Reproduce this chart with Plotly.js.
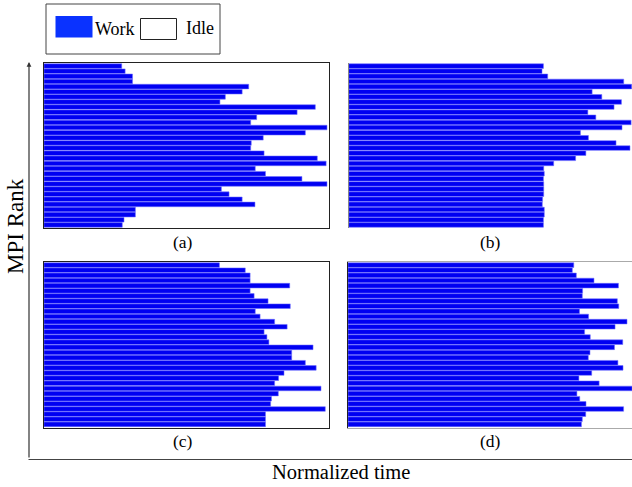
<!DOCTYPE html>
<html>
<head>
<meta charset="utf-8">
<script src="https://cdn.plot.ly/plotly-3.0.1.min.js"></script>
<style>html,body{margin:0;padding:0;background:#fff;}#chart{width:632px;height:487px;}</style>
</head>
<body>
<div id="chart"></div>
<script>
// MPI ranks (top to bottom)
const ranks = [0,1,2,3,4,5,6,7,8,9,10,11,12,13,14,15,16,17,18,19,20,21,22,23,24,25,26,27,28,29,30,31];

// Normalized work time per rank, panels (a)-(d)
const workA = [0.273,0.285,0.311,0.311,0.719,0.696,0.637,0.618,0.953,0.889,0.747,0.726,0.994,0.918,0.770,0.728,
               0.726,0.773,0.960,0.991,0.742,0.778,0.906,0.994,0.623,0.650,0.696,0.741,0.321,0.321,0.281,0.275];
const workB = [0.684,0.679,0.699,0.966,0.994,0.855,0.889,0.958,0.932,0.840,0.868,0.992,0.960,0.814,0.842,0.939,
               0.988,0.833,0.797,0.720,0.685,0.687,0.684,0.685,0.685,0.685,0.681,0.680,0.687,0.687,0.684,0.684];
const workC = [0.616,0.707,0.724,0.724,0.863,0.724,0.738,0.787,0.865,0.742,0.759,0.810,0.854,0.773,0.783,0.790,
               0.945,0.870,0.870,0.918,0.956,0.843,0.824,0.810,0.973,0.823,0.799,0.796,0.988,0.778,0.778,0.778];
const workD = [0.793,0.788,0.802,0.864,0.950,0.824,0.823,0.946,0.951,0.813,0.845,0.980,0.938,0.831,0.851,0.965,
               0.936,0.850,0.844,0.948,0.966,0.856,0.811,0.882,0.998,0.804,0.814,0.836,0.968,0.835,0.823,0.820];

const panelLabels = ['(a)','(b)','(c)','(d)'];
const legendLabels = ['Work','Idle'];
const xTitle = 'Normalized time';
const yTitle = 'MPI Rank';

const W = 632, H = 487;
const px = v => v / W;
const py = v => 1 - v / H;
const serif = 'Liberation Serif, Times New Roman, serif';
const blue = '#0000f2';

function barTrace(vals, xa, ya) {
  return {
    type: 'bar', orientation: 'h', x: vals, y: ranks, xaxis: xa, yaxis: ya,
    marker: {color: blue, line: {color: 'rgba(110,110,255,0.9)', width: 0.6}},
    showlegend: false, hoverinfo: 'x+y'
  };
}

const data = [
  barTrace(workA, 'x', 'y'),
  barTrace(workB, 'x2', 'y2'),
  barTrace(workC, 'x3', 'y3'),
  barTrace(workD, 'x4', 'y4')
];

const unit = 284.7; // pixels for one normalized time unit
function xax(left, right, opts) {
  return Object.assign({
    domain: [px(left), px(right)], range: [0, (right - left) / unit],
    showticklabels: false, ticks: '', showgrid: false, zeroline: false,
    showline: false, fixedrange: true
  }, opts || {});
}
function yax(top, bottom, opts) {
  return Object.assign({
    domain: [py(bottom), py(top)], range: [31.6, -0.6], type: 'linear',
    showticklabels: false, ticks: '', showgrid: false, zeroline: false,
    showline: false, fixedrange: true
  }, opts || {});
}
const boxLine = {showline: true, mirror: true, linecolor: '#222', linewidth: 1};

const layout = {
  width: W, height: H,
  margin: {l: 0, r: 0, t: 0, b: 0},
  paper_bgcolor: '#fff', plot_bgcolor: 'rgba(0,0,0,0)',
  bargap: 0.1,
  showlegend: false,
  xaxis:  Object.assign(xax(44, 329, boxLine), {anchor: 'y'}),
  yaxis:  yax(63, 228, Object.assign({anchor: 'x'}, boxLine)),
  xaxis2: xax(348.7, 632, {anchor: 'y2'}),
  yaxis2: yax(63, 228, {anchor: 'x2', showline: true, linecolor: '#888', linewidth: 1}),
  xaxis3: xax(44, 329, Object.assign({anchor: 'y3'}, boxLine)),
  yaxis3: yax(262, 427.5, Object.assign({anchor: 'x3'}, boxLine)),
  xaxis4: xax(348, 632, {anchor: 'y4', showline: true, mirror: true, linecolor: '#aaa', linewidth: 1}),
  yaxis4: yax(262, 427.5, {anchor: 'x4', showline: true, linecolor: '#222', linewidth: 1}),
  shapes: [
    // legend frame
    {type: 'rect', xref: 'paper', yref: 'paper', x0: px(46), x1: px(220), y0: py(54), y1: py(4),
     line: {color: '#444', width: 1}, fillcolor: '#fff'},
    // Work swatch
    {type: 'rect', xref: 'paper', yref: 'paper', x0: px(55.5), x1: px(92.5), y0: py(37.5), y1: py(16),
     line: {width: 0}, fillcolor: '#0a32ff'},
    // Idle swatch
    {type: 'rect', xref: 'paper', yref: 'paper', x0: px(140.5), x1: px(176.5), y0: py(39.5), y1: py(18.5),
     line: {color: '#222', width: 1}, fillcolor: '#fff'},
    // horizontal time axis
    {type: 'line', xref: 'paper', yref: 'paper', x0: px(28.5), x1: px(632), y0: py(459.5), y1: py(459.5),
     line: {color: '#444', width: 1.2}}
  ],
  annotations: [
    {text: legendLabels[0], xref: 'paper', yref: 'paper', x: px(93), y: py(29), xanchor: 'left', yanchor: 'middle',
     showarrow: false, font: {family: serif, size: 18, color: '#000'}},
    {text: legendLabels[1], xref: 'paper', yref: 'paper', x: px(184), y: py(28), xanchor: 'left', yanchor: 'middle',
     showarrow: false, font: {family: serif, size: 18, color: '#000'}},
    {text: panelLabels[0], xref: 'paper', yref: 'paper', x: px(183), y: py(242), xanchor: 'center', yanchor: 'middle',
     showarrow: false, font: {family: serif, size: 17.5, color: '#000'}},
    {text: panelLabels[1], xref: 'paper', yref: 'paper', x: px(490), y: py(242), xanchor: 'center', yanchor: 'middle',
     showarrow: false, font: {family: serif, size: 17.5, color: '#000'}},
    {text: panelLabels[2], xref: 'paper', yref: 'paper', x: px(183), y: py(441), xanchor: 'center', yanchor: 'middle',
     showarrow: false, font: {family: serif, size: 17.5, color: '#000'}},
    {text: panelLabels[3], xref: 'paper', yref: 'paper', x: px(490), y: py(441), xanchor: 'center', yanchor: 'middle',
     showarrow: false, font: {family: serif, size: 17.5, color: '#000'}},
    {text: xTitle, xref: 'paper', yref: 'paper', x: px(341), y: py(472), xanchor: 'center', yanchor: 'middle',
     showarrow: false, font: {family: serif, size: 20.5, color: '#000'}},
    {text: yTitle, xref: 'paper', yref: 'paper', x: px(15), y: py(226), xanchor: 'center', yanchor: 'middle',
     textangle: -90, showarrow: false, font: {family: serif, size: 23, color: '#000'}},
    // vertical rank axis with arrow
    {text: '', xref: 'paper', yref: 'paper', x: px(29), y: py(62), axref: 'pixel', ayref: 'pixel', ax: 0, ay: 397,
     showarrow: true, arrowhead: 2, arrowsize: 0.8, arrowwidth: 1.2, arrowcolor: '#333', standoff: 0}
  ]
};

Plotly.newPlot('chart', data, layout, {displayModeBar: false, staticPlot: true});
</script>
</body>
</html>
